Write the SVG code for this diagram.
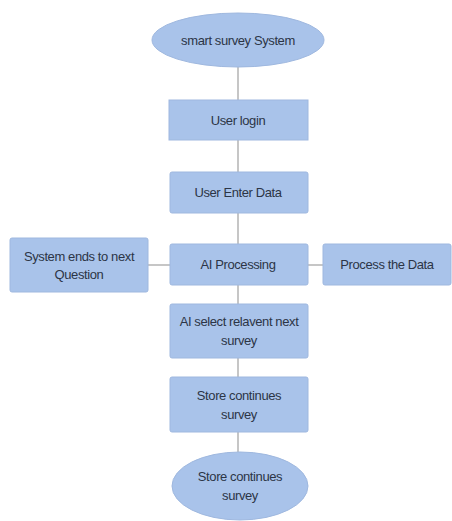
<svg xmlns="http://www.w3.org/2000/svg" width="452" height="521" viewBox="0 0 452 521">
<style>
.n{fill:#a9c3ea;stroke:#9fb8df;stroke-width:1}
.t{font-family:"Liberation Sans",Arial,sans-serif;font-size:13px;fill:#2c3546;text-anchor:middle;letter-spacing:-0.4px}
.c{stroke:#a0a0a0;stroke-width:1.2;fill:none}
</style>
<rect width="452" height="521" fill="#ffffff"/>
<g id="connectors">
<line class="c" x1="238" y1="67" x2="238" y2="100"/>
<line class="c" x1="238" y1="140" x2="238" y2="172"/>
<line class="c" x1="238" y1="213" x2="238" y2="244"/>
<line class="c" x1="148" y1="265" x2="170" y2="265"/>
<line class="c" x1="308" y1="265" x2="323" y2="265"/>
<line class="c" x1="238" y1="285" x2="238" y2="304"/>
<line class="c" x1="238" y1="358" x2="238" y2="377"/>
<line class="c" x1="238" y1="432" x2="238" y2="452"/>
</g>
<g id="start">
<ellipse class="n" cx="238" cy="40" rx="86" ry="27"/>
<text class="t" x="238" y="45">smart survey System</text>
</g>
<g id="login">
<rect class="n" x="169" y="100" width="139" height="40"/>
<text class="t" x="238" y="125">User login</text>
</g>
<g id="enter">
<rect class="n" x="170" y="172" width="138" height="41" rx="2"/>
<text class="t" x="238" y="197">User Enter Data</text>
</g>
<g id="ai">
<rect class="n" x="170" y="244" width="138" height="41" rx="2"/>
<text class="t" x="238" y="269">AI Processing</text>
</g>
<g id="ends">
<rect class="n" x="10" y="238" width="138" height="54" rx="2"/>
<text class="t" x="79" y="261">System ends to next</text>
<text class="t" x="79" y="279">Question</text>
</g>
<g id="process">
<rect class="n" x="323" y="244" width="128" height="41" rx="2"/>
<text class="t" x="387" y="269">Process the Data</text>
</g>
<g id="select">
<rect class="n" x="170" y="304" width="138" height="54" rx="2"/>
<text class="t" x="239" y="326">AI select relavent next</text>
<text class="t" x="239" y="345">survey</text>
</g>
<g id="store">
<rect class="n" x="170" y="377" width="138" height="55" rx="2"/>
<text class="t" x="239" y="400">Store continues</text>
<text class="t" x="239" y="419">survey</text>
</g>
<g id="end">
<ellipse class="n" cx="240" cy="486" rx="68" ry="34"/>
<text class="t" x="240" y="481">Store continues</text>
<text class="t" x="240" y="500">survey</text>
</g>
</svg>
